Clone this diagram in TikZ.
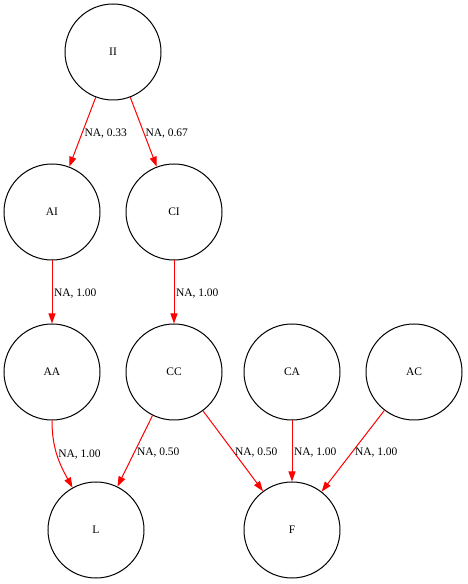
\documentclass[tikz,border=0pt]{standalone}
\usepackage{fontspec}
\setmainfont{Liberation Serif}
\usepackage{tikz}
\usetikzlibrary{arrows.meta}

\begin{document}
\begin{tikzpicture}[
    x=1pt, y=1pt,
    state/.style={circle,draw=black,line width=1pt,minimum size=96pt,inner sep=0pt,font={\fontsize{11.5}{13}\selectfont}},
    edge/.style={draw=red,line width=1pt,-{Triangle[length=10pt,width=7pt]}},
    weight/.style={anchor=west,inner sep=1.5pt,yshift=-2pt,text=black,font={\fontsize{11.5}{13}\selectfont}},
]

    \useasboundingbox (0,0) rectangle (467,584);

    % States
    \node[state] (ii) at (113,532) {II};
    \node[state] (ai) at (52,372)  {AI};
    \node[state] (ci) at (174,372) {CI};
    \node[state] (aa) at (52,212)  {AA};
    \node[state] (cc) at (174,212) {CC};
    \node[state] (ca) at (292,212) {CA};
    \node[state] (ac) at (414,212) {AC};
    \node[state] (l)  at (96,54)   {L};
    \node[state] (f)  at (292,54)  {F};

    % Transitions
    \draw[edge] (ii) -- node[weight] {NA, 0.33} (ai);
    \draw[edge] (ii) -- node[weight] {NA, 0.67} (ci);
    \draw[edge] (ai) -- node[weight] {NA, 1.00} (aa);
    \draw[edge] (ci) -- node[weight] {NA, 1.00} (cc);
    \draw[edge] (aa) to[out=-90,in=119] node[weight,pos=0.45] {NA, 1.00} (l);
    \draw[edge] (cc) -- node[weight] {NA, 0.50} (l);
    \draw[edge] (cc) -- node[weight] {NA, 0.50} (f);
    \draw[edge] (ca) -- node[weight] {NA, 1.00} (f);
    \draw[edge] (ac) -- node[weight] {NA, 1.00} (f);

\end{tikzpicture}
\end{document}
